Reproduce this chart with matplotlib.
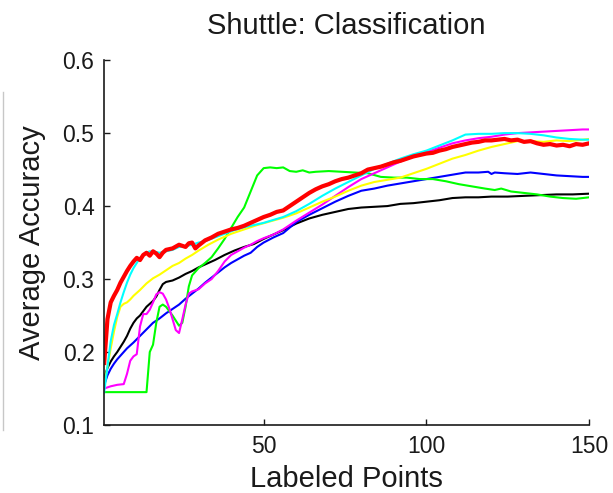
import matplotlib
matplotlib.use('Agg')
import matplotlib.pyplot as plt
from matplotlib.lines import Line2D

plt.rcParams['font.family'] = ['Liberation Sans', 'DejaVu Sans']

# ---- data ----
red_x = [1,2,3,4,5,6,7,8,9,10,11,12,13,14,15,16,17,18,19,20,22,24,26,27,28,29,30,32,34,36,38,40,42,44,46,48,50,
         52,54,56,58,60,62,64,66,68,70,72,74,76,78,80,82,84,86,88,90,92,94,96,98,100,102,104,106,108,110,112,114,
         116,118,120,122,124,126,128,130,132,134,136,138,140,142,144,146,148,150]
red_y = [0.185,0.245,0.268,0.277,0.285,0.295,0.303,0.311,0.318,0.324,0.329,0.326,0.333,0.336,0.332,0.338,0.335,
         0.330,0.336,0.340,0.342,0.347,0.344,0.349,0.350,0.342,0.346,0.353,0.357,0.362,0.365,0.368,0.370,0.373,
         0.377,0.381,0.385,0.388,0.392,0.394,0.400,0.406,0.412,0.418,0.423,0.427,0.430,0.434,0.437,0.439,0.442,
         0.445,0.450,0.452,0.454,0.457,0.460,0.462,0.465,0.468,0.470,0.472,0.473,0.476,0.478,0.481,0.483,0.485,
         0.487,0.488,0.490,0.490,0.491,0.492,0.490,0.491,0.488,0.489,0.486,0.484,0.485,0.483,0.484,0.482,0.485,
         0.484,0.486]

cyan_x = [1,2,3,4,5,6,7,8,9,10,11,12,13,14,15,16,18,20,22,24,26,28,30,32,35,38,41,44,47,50,53,56,60,64,68,72,
          76,80,84,88,92,96,100,104,108,112,116,120,124,128,132,136,140,144,148,150]
cyan_y = [0.145,0.180,0.215,0.237,0.252,0.268,0.282,0.295,0.306,0.315,0.322,0.329,0.333,0.336,0.338,0.338,0.336,
          0.338,0.340,0.344,0.345,0.347,0.350,0.352,0.357,0.362,0.367,0.371,0.374,0.377,0.381,0.385,0.393,0.403,
          0.414,0.424,0.433,0.442,0.451,0.458,0.465,0.471,0.476,0.483,0.490,0.498,0.499,0.499,0.500,0.500,0.499,
          0.497,0.494,0.492,0.491,0.491]

yellow_x = [1,2,3,4,5,6,7,8,9,10,12,14,16,18,20,22,24,26,28,30,33,36,40,44,48,52,56,60,64,68,72,76,80,84,88,92,
            96,100,104,108,112,116,120,124,128,132,136,140,144,148,150]
yellow_y = [0.155,0.180,0.205,0.228,0.248,0.262,0.266,0.268,0.272,0.277,0.285,0.294,0.301,0.306,0.312,0.318,0.322,
            0.328,0.333,0.339,0.347,0.354,0.362,0.368,0.374,0.379,0.384,0.390,0.398,0.406,0.413,0.421,0.428,0.433,
            0.436,0.439,0.445,0.451,0.458,0.465,0.470,0.476,0.481,0.485,0.489,0.489,0.488,0.490,0.489,0.491,0.492]

black_x = [1,2,3,4,5,6,7,8,9,10,11,12,13,14,15,16,17,18,19,20,22,24,26,28,30,32,35,38,41,44,47,50,53,56,60,64,
           68,72,76,80,84,88,92,96,100,104,108,112,116,120,125,130,135,140,145,150]
black_y = [0.165,0.178,0.187,0.194,0.200,0.207,0.214,0.222,0.232,0.240,0.246,0.250,0.256,0.262,0.266,0.270,0.276,
           0.285,0.293,0.296,0.298,0.302,0.307,0.311,0.316,0.320,0.326,0.333,0.339,0.344,0.348,0.355,0.361,0.367,
           0.376,0.383,0.388,0.392,0.396,0.398,0.399,0.400,0.403,0.404,0.406,0.408,0.411,0.412,0.412,0.413,0.413,
           0.414,0.415,0.416,0.416,0.417]

blue_x = [1,2,3,4,5,6,7,8,9,10,12,14,16,18,20,22,24,26,28,30,32,34,36,38,40,42,44,46,48,50,53,56,60,64,68,72,76,
          80,84,88,92,96,100,104,108,112,116,119,120,121,124,128,132,136,140,144,148,150]
blue_y = [0.155,0.168,0.177,0.184,0.190,0.195,0.200,0.205,0.209,0.213,0.222,0.231,0.240,0.246,0.253,0.259,0.265,
          0.273,0.280,0.287,0.295,0.302,0.309,0.316,0.322,0.327,0.332,0.336,0.344,0.350,0.357,0.363,0.378,0.388,
          0.397,0.406,0.414,0.421,0.424,0.428,0.431,0.434,0.437,0.440,0.443,0.446,0.446,0.447,0.444,0.446,0.445,
          0.444,0.446,0.444,0.442,0.441,0.440,0.440]

magenta_x = [1,3,5,7,8,9,10,11,12,13,14,15,16,17,18,19,20,21,22,23,24,25,26,27,28,30,32,34,36,38,40,42,44,46,48,
             50,53,56,60,64,68,72,76,80,84,88,92,96,100,104,108,112,116,120,124,128,132,136,140,144,148,150]
magenta_y = [0.150,0.153,0.155,0.156,0.170,0.188,0.194,0.197,0.235,0.252,0.252,0.258,0.268,0.279,0.282,0.280,
             0.272,0.260,0.245,0.230,0.226,0.245,0.265,0.280,0.283,0.286,0.294,0.300,0.311,0.324,0.333,0.338,
             0.343,0.347,0.352,0.356,0.361,0.368,0.380,0.391,0.402,0.414,0.426,0.437,0.445,0.453,0.461,0.468,
             0.474,0.480,0.486,0.490,0.493,0.495,0.498,0.500,0.501,0.502,0.503,0.504,0.505,0.505]

green_x = [1,14,15,16,17,18,19,20,22,24,25,26,27,28,30,32,34,36,38,40,42,44,46,48,50,52,54,56,58,60,62,64,66,70,
           74,78,82,86,90,94,98,102,106,110,114,118,121,123,126,130,134,138,142,146,150]
green_y = [0.145,0.145,0.200,0.210,0.240,0.262,0.265,0.262,0.250,0.236,0.240,0.262,0.290,0.305,0.315,0.322,0.330,
           0.342,0.355,0.370,0.385,0.398,0.420,0.442,0.452,0.453,0.452,0.453,0.448,0.447,0.449,0.446,0.447,0.448,
           0.447,0.446,0.445,0.440,0.439,0.439,0.437,0.437,0.434,0.430,0.427,0.424,0.422,0.424,0.420,0.418,0.416,
           0.413,0.411,0.410,0.412]

fig = plt.figure(figsize=(6.13, 4.93), dpi=100)
ax = fig.add_axes([0.170, 0.138, 0.791, 0.740])

ax.plot(black_x, black_y, color='k', lw=1.5)
ax.plot(blue_x, blue_y, color=(0, 0, 1), lw=1.5)
ax.plot(green_x, green_y, color=(0, 1, 0), lw=1.5)
ax.plot(magenta_x, magenta_y, color=(1, 0, 1), lw=1.5)
ax.plot(yellow_x, yellow_y, color=(1, 1, 0), lw=1.5)
ax.plot(cyan_x, cyan_y, color=(0, 1, 1), lw=1.5)
ax.plot(red_x, red_y, color=(1, 0, 0), lw=3.0)

ax.set_xlim(1, 150)
ax.set_ylim(0.1, 0.6)
ax.set_xticks([50, 100, 150])
ax.set_yticks([0.1, 0.2, 0.3, 0.4, 0.5, 0.6])
ax.set_yticklabels(['0.1', '0.2', '0.3', '0.4', '0.5', '0.6'])
ax.tick_params(direction='in', length=4, width=1, labelsize=16.5, pad=7, colors='#1a1a1a')
ax.spines['top'].set_visible(False)
ax.spines['right'].set_visible(False)
for s in ['left', 'bottom']:
    ax.spines[s].set_linewidth(1.2)
    ax.spines[s].set_color('#1a1a1a')

ax.set_title('Shuttle: Classification', fontsize=21, pad=19, color='#1a1a1a')
ax.set_xlabel('Labeled Points', fontsize=21, labelpad=5, color='#1a1a1a')
ax.set_ylabel('Average Accuracy', fontsize=21, labelpad=12, color='#1a1a1a')

# thin grey line at the left edge
fig.add_artist(Line2D([0.005, 0.005], [1 - 92 / 493, 1 - 430 / 493], color='0.78', lw=1))

fig.savefig('out.png', dpi=100)
